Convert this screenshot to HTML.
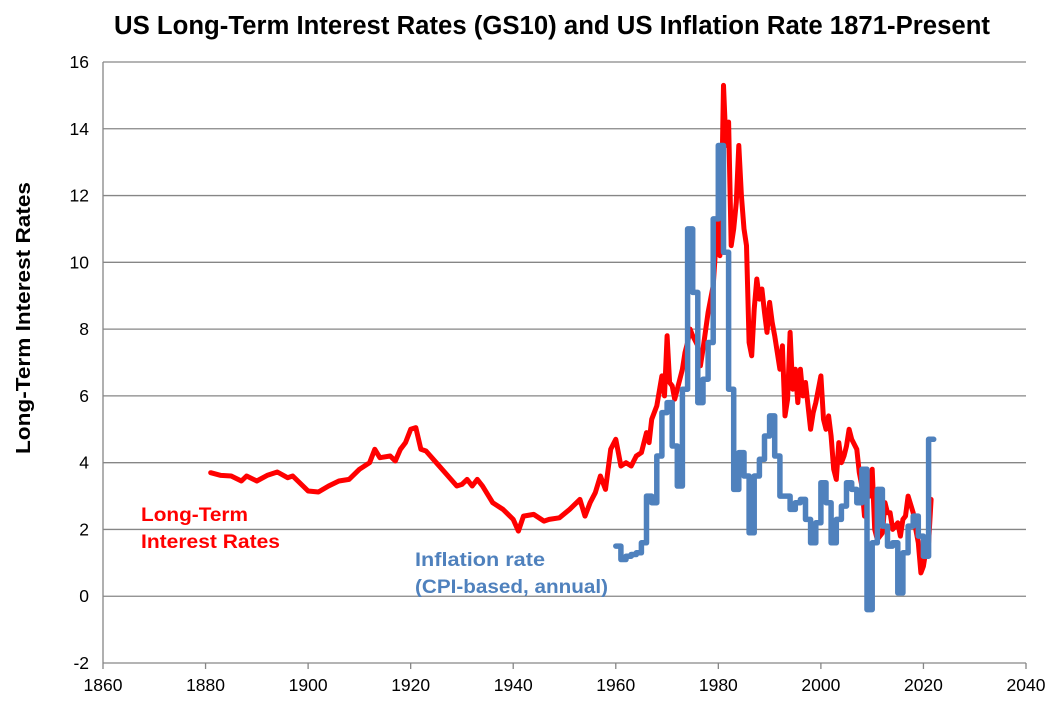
<!DOCTYPE html>
<html><head><meta charset="utf-8"><style>
body{margin:0;background:#fff;}
svg{display:block;font-family:"Liberation Sans",sans-serif;}
</style></head><body>
<svg id="chart" width="1053" height="708" xmlns="http://www.w3.org/2000/svg">
<text x="552" y="34" text-anchor="middle" font-size="25.5" font-weight="bold" textLength="876" lengthAdjust="spacingAndGlyphs">US Long-Term Interest Rates (GS10) and US Inflation Rate 1871-Present</text>
<text transform="translate(30,318) rotate(-90)" text-anchor="middle" font-size="20" font-weight="bold" textLength="272" lengthAdjust="spacingAndGlyphs">Long-Term Interest Rates</text>
<g id="grid"></g>
<g id="axes"></g>
<g id="series"></g>
<text x="141" y="521" fill="#f00" font-size="19" font-weight="bold" textLength="107" lengthAdjust="spacingAndGlyphs">Long-Term</text>
<text x="141" y="548" fill="#f00" font-size="19" font-weight="bold" textLength="139" lengthAdjust="spacingAndGlyphs">Interest Rates</text>
<text x="415" y="566" fill="#4f81bd" font-size="19" font-weight="bold" textLength="130" lengthAdjust="spacingAndGlyphs">Inflation rate</text>
<text x="415" y="593" fill="#4f81bd" font-size="19" font-weight="bold" textLength="193" lengthAdjust="spacingAndGlyphs">(CPI-based, annual)</text>
</svg>
<script>
const xTicks=[1860,1880,1900,1920,1940,1960,1980,2000,2020,2040];
const yTicks=[-2,0,2,4,6,8,10,12,14,16];
const rateYears=[1881,1883,1885,1887,1888,1890,1892,1894,1896,1897,1899,1900,1902,1904,1906,1908,1910,1912,1913,1914,1916,1917,1918,1919,1920,1921,1922,1923,1925,1927,1929,1930,1931,1932,1933,1934,1936,1938,1940,1941,1942,1944,1946,1947,1949,1951,1953,1954,1955,1956,1957,1958,1959,1960,1961,1962,1963,1964,1965,1966,1966.5,1967,1968,1969,1969.5,1970,1970.5,1971,1971.5,1972,1973,1973.5,1974,1974.5,1975,1976,1976.5,1977,1978,1979,1979.5,1980,1980.3,1980.7,1981,1981.5,1982,1982.5,1983,1983.5,1984,1984.5,1985,1985.5,1986,1986.5,1987,1987.5,1988,1988.5,1989,1989.5,1990,1990.5,1991,1992,1992.5,1993,1993.5,1994,1994.5,1995,1995.5,1996,1996.5,1997,1998,1998.5,1999,2000,2000.5,2001,2001.5,2002,2002.5,2003,2003.5,2004,2004.5,2005,2005.5,2006,2007,2007.5,2008,2008.5,2009,2009.5,2010,2010.5,2011,2012,2012.5,2013,2013.5,2014,2015,2015.5,2016,2016.5,2017,2018,2018.5,2019,2019.5,2020,2020.5,2021,2021.5,2022];
const rateValues=[3.7,3.62,3.6,3.45,3.6,3.45,3.62,3.72,3.55,3.6,3.3,3.15,3.12,3.3,3.45,3.5,3.8,4.0,4.4,4.15,4.2,4.05,4.4,4.6,5.0,5.05,4.4,4.35,4.0,3.65,3.3,3.35,3.5,3.3,3.5,3.3,2.8,2.6,2.3,1.95,2.4,2.45,2.25,2.3,2.35,2.6,2.9,2.4,2.8,3.1,3.6,3.2,4.4,4.7,3.9,4.0,3.9,4.2,4.3,4.9,4.6,5.3,5.7,6.6,6.0,7.8,6.4,6.3,5.9,6.2,6.8,7.3,7.6,8.0,7.8,7.5,6.9,7.4,8.5,9.3,10.5,11.5,10.2,12.5,15.3,13.5,14.2,10.5,11.0,11.8,13.5,12.0,11.0,10.5,7.6,7.2,8.6,9.5,8.9,9.2,8.5,7.9,8.8,8.2,7.8,6.8,7.5,5.4,5.9,7.9,6.2,6.8,5.8,6.8,6.0,6.4,5.0,5.5,5.8,6.6,5.3,5.0,5.4,4.8,3.8,3.5,4.6,4.0,4.2,4.5,5.0,4.7,4.4,3.7,3.3,2.4,3.8,3.0,3.8,2.0,1.7,1.9,2.8,2.5,2.5,2.0,2.2,1.8,2.3,2.4,3.0,2.5,2.0,1.6,0.7,0.9,1.4,1.6,2.9];
const inflYears=[1960,1961,1962,1963,1964,1965,1966,1967,1968,1969,1970,1971,1972,1973,1974,1975,1976,1977,1978,1979,1980,1981,1982,1983,1984,1985,1986,1987,1988,1989,1990,1991,1992,1993,1994,1995,1996,1997,1998,1999,2000,2001,2002,2003,2004,2005,2006,2007,2008,2009,2010,2011,2012,2013,2014,2015,2016,2017,2018,2019,2020,2021];
const inflValues=[1.5,1.1,1.2,1.25,1.3,1.6,3.0,2.8,4.2,5.5,5.8,4.5,3.3,6.2,11.0,9.1,5.8,6.5,7.6,11.3,13.5,10.3,6.2,3.2,4.3,3.6,1.9,3.6,4.1,4.8,5.4,4.2,3.0,3.0,2.6,2.8,2.9,2.3,1.6,2.2,3.4,2.8,1.6,2.3,2.7,3.4,3.2,2.8,3.8,-0.4,1.6,3.2,2.1,1.5,1.6,0.1,1.3,2.1,2.4,1.8,1.2,4.7];
const X0=103,X1=1026,Y0=663,Y1=62;
const xs=y=>X0+(y-1860)/(2040-1860)*(X1-X0);
const ys=v=>Y0-(v+2)/18*(Y0-Y1);
const NS="http://www.w3.org/2000/svg";
function mk(tag,attrs,parent){const e=document.createElementNS(NS,tag);for(const k in attrs)e.setAttribute(k,attrs[k]);parent.appendChild(e);return e;}
const grid=document.getElementById('grid'),axes=document.getElementById('axes'),ser=document.getElementById('series');
yTicks.forEach(t=>{
 const l=mk('line',{x1:X0,x2:X1,y1:ys(t),y2:ys(t),stroke:'#868686','stroke-width':1.3},grid);
 
 
 const tx=mk('text',{x:X0-14,y:ys(t)+6,'text-anchor':'end','font-size':17.5},axes);tx.textContent=t;
 
 
});
const ax=mk('line',{x1:X0,x2:X0,y1:Y1,y2:Y0,stroke:'#868686','stroke-width':1.3},axes);


xTicks.forEach(t=>{
 const tk=mk('line',{x1:xs(t),x2:xs(t),y1:Y0,y2:Y0+6,stroke:'#868686','stroke-width':1.3},axes);
 
 
 const tx=mk('text',{x:xs(t),y:Y0+28,'text-anchor':'middle','font-size':17.5},axes);tx.textContent=t;
 
 
});
let d='';rateYears.forEach((y,i)=>{d+=(i?'L':'M')+xs(y).toFixed(1)+','+ys(rateValues[i]).toFixed(1);});
const rp=mk('path',{d:d,fill:'none',stroke:'#f00','stroke-width':5,'stroke-linejoin':'round','stroke-linecap':'round'},ser);


let d2='';inflYears.forEach((y,i)=>{const yy=ys(inflValues[i]);d2+=(i?'L':'M')+xs(y).toFixed(1)+','+yy.toFixed(1)+'L'+xs(y+1).toFixed(1)+','+yy.toFixed(1);});
const bp=mk('path',{d:d2,fill:'none',stroke:'#4f81bd','stroke-width':5.5,'stroke-linejoin':'round','stroke-linecap':'round'},ser);


</script>
</body></html>
